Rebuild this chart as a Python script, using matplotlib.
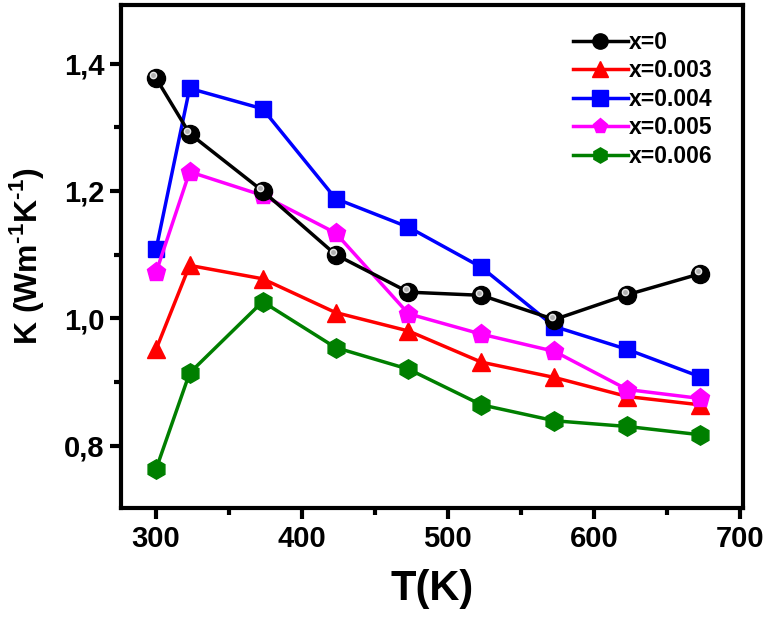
import numpy as np
import matplotlib
matplotlib.use('Agg')
from matplotlib import pyplot as plt
from matplotlib import transforms
from matplotlib.ticker import FuncFormatter, MultipleLocator

plt.rcParams['font.family'] = ['Liberation Sans', 'DejaVu Sans']
plt.rcParams['font.weight'] = 'bold'
plt.rcParams['mathtext.fontset'] = 'custom'
plt.rcParams['mathtext.rm'] = 'Liberation Sans:bold'
plt.rcParams['mathtext.bf'] = 'Liberation Sans:bold'

# data
T = [300, 323, 373, 423, 473, 523, 573, 623, 673]
k_0 = [1.377, 1.290, 1.200, 1.100, 1.041, 1.036, 0.998, 1.037, 1.070]
k_003 = [0.951, 1.083, 1.062, 1.009, 0.980, 0.931, 0.907, 0.877, 0.864]
k_004 = [1.108, 1.361, 1.329, 1.188, 1.143, 1.080, 0.987, 0.951, 0.908]
k_005 = [1.072, 1.230, 1.193, 1.134, 1.007, 0.975, 0.948, 0.888, 0.874]
k_006 = [0.763, 0.914, 1.026, 0.954, 0.920, 0.864, 0.839, 0.830, 0.817]
labels = ['x=0', 'x=0.003', 'x=0.004', 'x=0.005', 'x=0.006']

fig = plt.figure(figsize=(7.68, 6.23), dpi=100)
ax = fig.add_axes([0.1576, 0.1846, 0.8094, 0.8074])

ax.plot(T, k_0, color='black', lw=2.5, marker='o', ms=13, label=labels[0], zorder=5)
# highlight on the spheres
hl = transforms.offset_copy(ax.transData, fig=fig, x=-2, y=2, units='points')
ax.plot(T, k_0, ls='none', marker='o', ms=4.5, color='#b0b0b0', mec='#e8e8e8',
        transform=hl, zorder=6)
ax.plot(T, k_003, color='red', lw=2.5, marker='^', ms=13, label=labels[1], zorder=4)
ax.plot(T, k_004, color='#0000ff', lw=2.5, marker='s', ms=11, label=labels[2], zorder=4)
ax.plot(T, k_005, color='#ff00ff', lw=2.5, marker='p', ms=14, label=labels[3], zorder=4)
ax.plot(T, k_006, color='#007f00', lw=2.5, marker='h', ms=14, label=labels[4], zorder=4)

ax.set_xlim(276, 702)
ax.set_ylim(0.702, 1.492)
ax.xaxis.set_major_locator(MultipleLocator(100))
ax.xaxis.set_minor_locator(MultipleLocator(50))
ax.yaxis.set_major_locator(MultipleLocator(0.2))
ax.yaxis.set_minor_locator(MultipleLocator(0.1))
ax.yaxis.set_major_formatter(FuncFormatter(lambda v, p: ('%.1f' % v).replace('.', ',')))

for s in ax.spines.values():
    s.set_linewidth(3)
ax.tick_params(which='major', direction='out', length=8, width=3, labelsize=21, pad=4)
ax.tick_params(which='minor', direction='out', length=5, width=3)

ax.set_xlabel('T(K)', fontsize=30, fontweight='bold', labelpad=12)
ax.set_ylabel('K (Wm$^{\\text{-1}}$K$^{\\text{-1}}$)', fontsize=23, fontweight='bold', labelpad=13)

leg = ax.legend(loc='upper right', frameon=False, fontsize=16.5, handlelength=2.4,
                borderaxespad=0.5, labelspacing=0.24, handletextpad=0.05,
                bbox_to_anchor=(0.985, 0.99))
for h in leg.legend_handles:
    h.set_markersize(11)

fig.savefig('out.png', dpi=100)
